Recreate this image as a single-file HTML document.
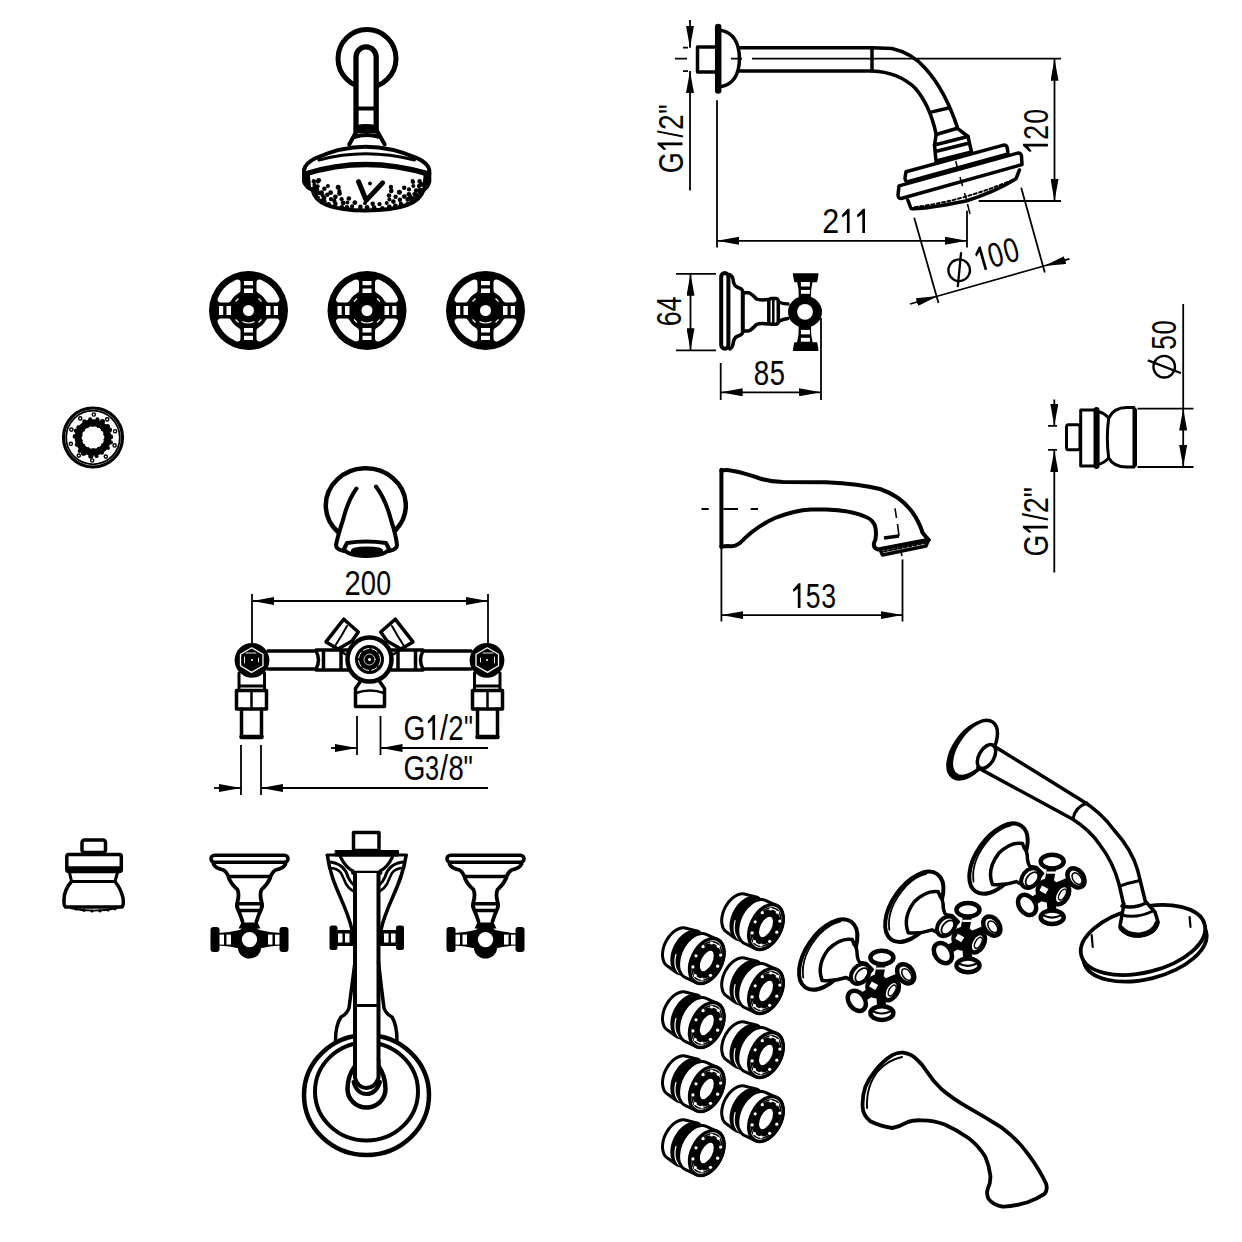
<!DOCTYPE html>
<html><head><meta charset="utf-8">
<style>
html,body{margin:0;padding:0;background:#fff;overflow:hidden;}
svg{display:block;}
text{font-family:"Liberation Sans",sans-serif;}
</style></head>
<body>
<svg width="1242" height="1242" viewBox="0 0 1242 1242">
<defs>
<marker id="ar" viewBox="0 0 22 8" refX="22" refY="4" markerWidth="22" markerHeight="8" markerUnits="userSpaceOnUse" orient="auto-start-reverse"><path d="M0 0 L22 4 L0 8 Z" fill="#000" stroke="none"/></marker>
</defs>
<g fill="none" stroke="#000" stroke-width="4" stroke-linejoin="round" stroke-linecap="round">
<!-- shower front -->
<circle cx="367" cy="58.5" r="29" stroke-width="5"/>
<path d="M356 131 L356 57 A10.1 10.1 0 0 1 376.2 57 L376.2 131" fill="#fff" stroke-width="5.3"/>
<line x1="356" y1="108.5" x2="376.2" y2="108.5" stroke-width="4"/>
<path d="M356 126.5 Q366 124 376.2 126.5 L376.2 132 L356 132 Z" fill="#000" stroke-width="2.5"/>
<path d="M355.7 132.7 L349.2 144.5 M378.2 132.7 L384.7 144.5 M354 137 Q366 133 380 137" stroke-width="4"/>
<path d="M315.4 158.3 Q365 135 417.6 158.3 Q428 163 429.3 170 L429.3 181.7 Q428 187 423.4 189.9 C420 204 398 210.5 366 210.5 C334 210.5 315 204 312.5 189.9 Q306 187 304 181.7 L304 170 Q305.5 163 315.4 158.3 Z" stroke-width="4"/>
<path d="M319 160 Q365 147.5 414.5 160" stroke-width="3"/>
<path d="M305 174 Q365 155 428.5 174" stroke-width="5.5"/>
<path d="M307.5 176 L308.5 187 M426 176 L425 187" stroke-width="5"/>
<path d="M358.6 181.7 L366.2 200.4 L382.6 182.9" stroke-width="5"/>
<g fill="#000" stroke="none"><circle cx="312.7" cy="189.2" r="2.1"/><circle cx="315.4" cy="192.2" r="2.5"/><circle cx="316.1" cy="195.3" r="1.9"/><circle cx="317.7" cy="197.7" r="2.2"/><circle cx="322.2" cy="200.6" r="2.3"/><circle cx="324.3" cy="201.4" r="2.4"/><circle cx="328.7" cy="204.3" r="2.3"/><circle cx="335.4" cy="203.9" r="2.3"/><circle cx="341.8" cy="207.3" r="2.4"/><circle cx="346.9" cy="207.3" r="2.4"/><circle cx="352.1" cy="206.4" r="2.1"/><circle cx="360.4" cy="206.9" r="2.3"/><circle cx="367.1" cy="207.4" r="2.4"/><circle cx="374.1" cy="207.7" r="2.4"/><circle cx="382.4" cy="208.2" r="2.2"/><circle cx="389.3" cy="206.9" r="2.4"/><circle cx="395.4" cy="206.0" r="2.4"/><circle cx="400.9" cy="203.8" r="2.2"/><circle cx="407.6" cy="204.0" r="2.3"/><circle cx="411.6" cy="201.4" r="2.1"/><circle cx="413.9" cy="198.2" r="2.2"/><circle cx="417.1" cy="195.4" r="2.3"/><circle cx="421.1" cy="193.4" r="1.9"/><circle cx="423.3" cy="190.4" r="2.3"/><circle cx="314.9" cy="187.8" r="2.5"/><circle cx="313.9" cy="189.5" r="2.4"/><circle cx="319.2" cy="193.0" r="2.3"/><circle cx="322.7" cy="195.4" r="2.1"/><circle cx="324.1" cy="198.1" r="2.3"/><circle cx="331.0" cy="199.1" r="2.2"/><circle cx="334.3" cy="200.8" r="2.2"/><circle cx="343.1" cy="203.0" r="2.4"/><circle cx="347.4" cy="202.6" r="2.0"/><circle cx="354.8" cy="202.7" r="2.4"/><circle cx="365.0" cy="203.2" r="1.9"/><circle cx="372.7" cy="203.8" r="2.3"/><circle cx="379.5" cy="204.1" r="2.2"/><circle cx="386.7" cy="203.1" r="2.0"/><circle cx="393.4" cy="201.6" r="2.3"/><circle cx="399.9" cy="199.8" r="2.2"/><circle cx="407.7" cy="199.4" r="2.3"/><circle cx="410.5" cy="197.6" r="2.5"/><circle cx="414.4" cy="194.0" r="2.1"/><circle cx="419.7" cy="191.9" r="1.9"/><circle cx="420.0" cy="189.7" r="2.1"/><circle cx="422.0" cy="184.5" r="2.3"/><circle cx="313.9" cy="181.2" r="2.0"/><circle cx="314.4" cy="184.7" r="2.0"/><circle cx="316.9" cy="189.4" r="2.4"/><circle cx="321.6" cy="192.5" r="2.3"/><circle cx="327.3" cy="194.7" r="2.2"/><circle cx="335.4" cy="196.8" r="2.4"/><circle cx="341.6" cy="199.2" r="2.1"/><circle cx="348.8" cy="198.5" r="2.3"/><circle cx="389.4" cy="199.5" r="2.0"/><circle cx="395.6" cy="196.7" r="2.2"/><circle cx="404.3" cy="196.6" r="2.4"/><circle cx="408.9" cy="194.3" r="2.4"/><circle cx="416.2" cy="190.7" r="2.4"/><circle cx="418.9" cy="186.1" r="2.1"/><circle cx="420.6" cy="184.3" r="2.2"/><circle cx="313.7" cy="181.4" r="2.1"/><circle cx="317.7" cy="186.3" r="2.0"/><circle cx="324.4" cy="188.7" r="2.2"/><circle cx="330.6" cy="192.7" r="2.4"/><circle cx="339.5" cy="193.6" r="2.4"/><circle cx="389.0" cy="195.5" r="2.3"/><circle cx="399.4" cy="192.3" r="2.5"/><circle cx="409.0" cy="189.4" r="2.1"/><circle cx="413.3" cy="186.1" r="2.0"/><circle cx="419.6" cy="181.2" r="2.2"/><circle cx="317.9" cy="181.6" r="2.1"/><circle cx="327.9" cy="185.9" r="2.0"/><circle cx="339.4" cy="191.0" r="2.1"/><circle cx="391.3" cy="190.9" r="2.3"/><circle cx="404.2" cy="187.8" r="2.2"/><circle cx="413.0" cy="181.9" r="2.1"/><circle cx="318.7" cy="180.3" r="2.4"/><circle cx="338.2" cy="187.2" r="2.5"/><circle cx="390.9" cy="187.0" r="2.2"/><circle cx="412.5" cy="181.0" r="1.9"/><circle cx="370.0" cy="183.5" r="1.9"/></g>
<!-- escutcheon front x3 -->
<g id="escf" transform="translate(248.5 310.5)">
<circle r="39.5" fill="#000" stroke="none"/>
<path d="M11.0 -27.9 L13.2 -26.9 L15.4 -25.7 L17.5 -24.4 L19.4 -22.9 L21.2 -21.2 L22.9 -19.4 L24.4 -17.5 L25.7 -15.4 L26.9 -13.2 L27.9 -11.0 L20.2 -11.0 L19.5 -12.1 L18.8 -13.2 L18.0 -14.3 L17.2 -15.3 L16.3 -16.3 L15.3 -17.2 L14.3 -18.0 L13.2 -18.8 L12.1 -19.5 L11.0 -20.2 Z M11.0 27.9 L13.2 26.9 L15.4 25.7 L17.5 24.4 L19.4 22.9 L21.2 21.2 L22.9 19.4 L24.4 17.5 L25.7 15.4 L26.9 13.2 L27.9 11.0 L20.2 11.0 L19.5 12.1 L18.8 13.2 L18.0 14.3 L17.2 15.3 L16.3 16.3 L15.3 17.2 L14.3 18.0 L13.2 18.8 L12.1 19.5 L11.0 20.2 Z M-11.0 -27.9 L-13.2 -26.9 L-15.4 -25.7 L-17.5 -24.4 L-19.4 -22.9 L-21.2 -21.2 L-22.9 -19.4 L-24.4 -17.5 L-25.7 -15.4 L-26.9 -13.2 L-27.9 -11.0 L-20.2 -11.0 L-19.5 -12.1 L-18.8 -13.2 L-18.0 -14.3 L-17.2 -15.3 L-16.3 -16.3 L-15.3 -17.2 L-14.3 -18.0 L-13.2 -18.8 L-12.1 -19.5 L-11.0 -20.2 Z M-11.0 27.9 L-13.2 26.9 L-15.4 25.7 L-17.5 24.4 L-19.4 22.9 L-21.2 21.2 L-22.9 19.4 L-24.4 17.5 L-25.7 15.4 L-26.9 13.2 L-27.9 11.0 L-20.2 11.0 L-19.5 12.1 L-18.8 13.2 L-18.0 14.3 L-17.2 15.3 L-16.3 16.3 L-15.3 17.2 L-14.3 18.0 L-13.2 18.8 L-12.1 19.5 L-11.0 20.2 Z" fill="#fff" stroke="#fff" stroke-width="6" stroke-linejoin="round"/>
<g fill="#fff" stroke="none">
<rect x="-4.5" y="-29.5" width="9" height="4.2"/>
<rect x="-4.5" y="-22" width="9" height="4.5"/>
<rect x="-4.5" y="25.3" width="9" height="4.2"/>
<rect x="-4.5" y="17.5" width="9" height="4.5"/>
<rect y="-4.5" x="-29.5" height="9" width="4.2"/>
<rect y="-4.5" x="-22" height="9" width="4.5"/>
<rect y="-4.5" x="25.3" height="9" width="4.2"/>
<rect y="-4.5" x="17.5" height="9" width="4.5"/>
<circle r="5.5"/>
</g>
<path d="M-10 -12 L-13 -9 M10 -12 L13 -9 M-10 12 L-13 9 M10 12 L13 9 M-6 11 Q0 14 6 11" stroke="#fff" stroke-width="1.2" stroke-linecap="butt"/>
</g>
<use href="#escf" x="118.5"/>
<use href="#escf" x="237"/>
<!-- jet front -->
<circle cx="93" cy="437.5" r="29.5" stroke-width="3.2"/>
<circle cx="93" cy="437.5" r="26.8" stroke-width="1.8"/>
<circle cx="93" cy="437.5" r="14.8" stroke-width="7"/>
<circle cx="110.9" cy="436.9" r="2.3" fill="#000" stroke="none"/>
<circle cx="110.9" cy="442.3" r="2.1" fill="#000" stroke="none"/>
<circle cx="108.2" cy="448.1" r="1.8" fill="#000" stroke="none"/>
<circle cx="102.1" cy="452.8" r="1.9" fill="#000" stroke="none"/>
<circle cx="96.6" cy="456.2" r="1.9" fill="#000" stroke="none"/>
<circle cx="90.8" cy="456.1" r="2.6" fill="#000" stroke="none"/>
<circle cx="83.6" cy="453.2" r="2.6" fill="#000" stroke="none"/>
<circle cx="79.6" cy="451.0" r="2.0" fill="#000" stroke="none"/>
<circle cx="76.7" cy="444.8" r="2.0" fill="#000" stroke="none"/>
<circle cx="75.0" cy="436.4" r="2.3" fill="#000" stroke="none"/>
<circle cx="76.0" cy="430.8" r="2.2" fill="#000" stroke="none"/>
<circle cx="78.4" cy="427.3" r="2.0" fill="#000" stroke="none"/>
<circle cx="84.4" cy="421.3" r="2.1" fill="#000" stroke="none"/>
<circle cx="90.1" cy="419.3" r="2.0" fill="#000" stroke="none"/>
<circle cx="97.4" cy="419.2" r="2.0" fill="#000" stroke="none"/>
<circle cx="102.5" cy="421.6" r="2.5" fill="#000" stroke="none"/>
<circle cx="107.4" cy="426.5" r="2.6" fill="#000" stroke="none"/>
<circle cx="109.7" cy="429.9" r="2.4" fill="#000" stroke="none"/>
<circle cx="104.6" cy="439.8" r="1.2" fill="#000" stroke="none"/>
<circle cx="102.4" cy="444.6" r="1.2" fill="#000" stroke="none"/>
<circle cx="98.4" cy="448.0" r="1.2" fill="#000" stroke="none"/>
<circle cx="93.3" cy="449.3" r="1.2" fill="#000" stroke="none"/>
<circle cx="88.1" cy="448.3" r="1.2" fill="#000" stroke="none"/>
<circle cx="84.0" cy="445.1" r="1.2" fill="#000" stroke="none"/>
<circle cx="81.6" cy="440.4" r="1.2" fill="#000" stroke="none"/>
<circle cx="81.4" cy="435.2" r="1.2" fill="#000" stroke="none"/>
<circle cx="83.6" cy="430.4" r="1.2" fill="#000" stroke="none"/>
<circle cx="87.6" cy="427.0" r="1.2" fill="#000" stroke="none"/>
<circle cx="92.7" cy="425.7" r="1.2" fill="#000" stroke="none"/>
<circle cx="97.9" cy="426.7" r="1.2" fill="#000" stroke="none"/>
<circle cx="102.0" cy="429.9" r="1.2" fill="#000" stroke="none"/>
<circle cx="104.4" cy="434.6" r="1.2" fill="#000" stroke="none"/>
<circle cx="114.6" cy="445.4" r="1.6" fill="#fff" stroke-width="1.4"/>
<circle cx="105.8" cy="456.6" r="1.6" fill="#fff" stroke-width="1.4"/>
<circle cx="92.2" cy="460.5" r="1.6" fill="#fff" stroke-width="1.4"/>
<circle cx="78.8" cy="455.6" r="1.6" fill="#fff" stroke-width="1.4"/>
<circle cx="70.9" cy="443.8" r="1.6" fill="#fff" stroke-width="1.4"/>
<circle cx="71.4" cy="429.6" r="1.6" fill="#fff" stroke-width="1.4"/>
<circle cx="80.2" cy="418.4" r="1.6" fill="#fff" stroke-width="1.4"/>
<circle cx="93.8" cy="414.5" r="1.6" fill="#fff" stroke-width="1.4"/>
<circle cx="107.2" cy="419.4" r="1.6" fill="#fff" stroke-width="1.4"/>
<circle cx="115.1" cy="431.2" r="1.6" fill="#fff" stroke-width="1.4"/>
<!-- spout front -->
<path d="M337.5 531.5 A40 37 0 1 1 396 529.6" stroke-width="4.5"/>
<path d="M356.5 488.5 Q348 500 343 520 Q338 535 336 545 Q336 549.5 344 551" stroke-width="4"/>
<path d="M376 486.5 Q386 500 391 520 Q396 535 397 545 Q397 549.5 389 551" stroke-width="4"/>
<path d="M347 543 Q366 540 386 543 L389 549 Q387 555 366 556 Q346 555 344 549 Z" stroke-width="4"/>
<ellipse cx="367" cy="551" rx="15" ry="3.2" fill="#000" stroke-width="2.5"/>
<!-- valve body front + dims -->
<g stroke-width="1.8" stroke-linecap="butt">
<line x1="252" y1="594" x2="252" y2="645"/>
<line x1="488" y1="594" x2="488" y2="643"/>
<line x1="252" y1="601" x2="488" y2="601" marker-start="url(#ar)" marker-end="url(#ar)"/>
<line x1="357" y1="716" x2="357" y2="755"/>
<line x1="380.5" y1="716" x2="380.5" y2="755"/>
<line x1="331" y1="748" x2="357" y2="748" marker-end="url(#ar)"/>
<line x1="488" y1="748" x2="380.5" y2="748" marker-end="url(#ar)"/>
<line x1="241" y1="745" x2="241" y2="795"/>
<line x1="261" y1="745" x2="261" y2="795"/>
<line x1="214" y1="788" x2="241" y2="788" marker-end="url(#ar)"/>
<line x1="488" y1="788" x2="261" y2="788" marker-end="url(#ar)"/>
</g>
<!-- pipes -->
<g stroke-width="3.5">
<path d="M268 651 L316 651 Q321 660 316 669 L268 669"/>
<path d="M471 651 L423 651 Q418 660 423 669 L471 669"/>
<path d="M316 650 L348 650 M316 670 L348 670 M323.5 650 L323.5 670 M341 650 L341 670"/>
<path d="M423 650 L391 650 M423 670 L391 670 M415.5 650 L415.5 670 M398 650 L398 670"/>
</g>
<!-- left valve -->
<g id="lv">
<path d="M239 673 L239 690 M264.5 673 L264.5 690 M239 686 L264.5 686" stroke-width="3"/>
<rect x="236.5" y="690.5" width="30" height="18.5" stroke-width="3.5"/>
<line x1="251.5" y1="690.5" x2="251.5" y2="709" stroke-width="2.5"/>
<path d="M241.5 709 L241.5 737 L261.5 737 L261.5 709" stroke-width="3.5"/>
<line x1="241.5" y1="737" x2="261.5" y2="737" stroke-width="4.5"/>
<circle cx="252" cy="660.3" r="17.4" fill="#000" stroke="none"/>
<path d="M251.7 647.8 L263 654.3 L263 665.8 L251.5 672.4 L240.5 665.8 L240.5 654.3 Z" stroke="#fff" stroke-width="1.3"/>
<path d="M246 653 L256 653 M244.5 657 L244.5 663 M258.5 658 L258.5 662" stroke="#fff" stroke-width="0.9"/>
<circle cx="252" cy="660" r="1" fill="#fff" stroke="none"/>
</g>
<use href="#lv" transform="translate(739 0) scale(-1 1)"/>
<!-- center body -->
<g stroke-width="3.5">
<path d="M343.8 619.2 L358.3 632 L352 641 L338 649 L326 641.9 Z"/>
<path d="M347 626 Q341 637 335 646" stroke-width="2"/>
<path d="M352 641 L358 646 M338 649 L345 654" stroke-width="2.5"/>
<path d="M395.2 619.2 L380.7 632 L387 641 L401 649 L413 641.9 Z"/>
<path d="M392 626 Q398 637 404 646" stroke-width="2"/>
<path d="M387 641 L381 646 M401 649 L394 654" stroke-width="2.5"/>
<path d="M360 682 L355.5 688.5 L355.5 706.5 L384.5 706.5 L384.5 688.5 L380 682" />
<path d="M356 693 Q370 688 384 693" stroke-width="2.5"/>
</g>
<circle cx="369.5" cy="659.5" r="22" fill="#fff" stroke-width="4.5"/>
<circle cx="369.5" cy="659.5" r="14.5" fill="#000" stroke="none"/>
<circle cx="369.5" cy="659.5" r="11" stroke="#fff" stroke-width="1" stroke-dasharray="6 3"/>
<circle cx="369.5" cy="659.5" r="5.5" stroke="#fff" stroke-width="0.8"/>
<circle cx="369.5" cy="659.5" r="1.5" fill="#fff" stroke="none"/>
<!-- handles front elevation -->
<g id="hd" transform="translate(249.5 938.6)">
<rect x="-38.5" y="-83.3" width="77" height="7" rx="3.5" stroke-width="3.6"/>
<path d="M-36 -74.6 Q-34 -70 -26 -68.6 Q-22 -66 -20.5 -60 Q-18 -54 -12 -49 Q-10 -44 -12 -37 Q-13.5 -33 -11.5 -29 Q-9 -24 -7 -17" stroke-width="3.8"/>
<path d="M36 -74.6 Q34 -70 26 -68.6 Q22 -66 20.5 -60 Q18 -54 12 -49 Q10 -44 12 -37 Q13.5 -33 11.5 -29 Q9 -24 7 -17" stroke-width="3.8"/>
<line x1="-20" y1="-62" x2="20" y2="-62" stroke-width="3.5"/>
<line x1="-11" y1="-34.8" x2="11" y2="-34.8" stroke-width="3.5"/>
<line x1="-10" y1="-28" x2="10" y2="-28" stroke-width="3.5"/>
<!-- cross -->
<g stroke="none" fill="#000">
<circle cx="0" cy="1" r="13.5"/><ellipse cx="0" cy="9.5" rx="11.5" ry="10.5"/><path d="M-8 -16 L-11 -10 L11 -10 L8 -16 Z"/>
<path d="M-31 -5.5 Q-20 -6 -10 -8.5 L10 -8.5 Q20 -6 31 -5.5 L31 7 Q20 7.5 10 10 L-10 10 Q-20 7.5 -31 7 Z"/>
<rect x="-39" y="-11.5" width="9" height="25" rx="3"/>
<rect x="30" y="-11.5" width="9" height="25" rx="3"/>
</g>
<g stroke="none" fill="#fff">
<circle cx="0" cy="1" r="7.7"/>
<rect x="-30" y="-4" width="4.5" height="10"/>
<rect x="-23" y="-4" width="4.5" height="10"/>
<rect x="25.5" y="-4" width="4.5" height="10"/>
<rect x="18.5" y="-4" width="4.5" height="10"/>
</g>
</g>
<use href="#hd" x="236"/>
<!-- center spout elevation -->
<ellipse cx="366.5" cy="1095" rx="62.5" ry="60" stroke-width="4.5"/>
<ellipse cx="366.5" cy="1091.5" rx="51.5" ry="49" stroke-width="4"/>
<g stroke-width="3.5">
<rect x="353.5" y="832.5" width="25.5" height="18"/>
<rect x="335.5" y="850.5" width="63" height="5.5" fill="#000" stroke-width="1"/>
<line x1="327" y1="855" x2="406.5" y2="855" stroke-width="3.2"/>
<path d="M327.5 856 C331 885 347 905 352 930" stroke-width="3.5"/>
<path d="M406 856 C402 885 386 905 381 930" stroke-width="3.5"/>
<path d="M340.5 857 Q346 868 353 871 M392.5 857 Q387 868 380 871" stroke-width="3.2"/>
<path d="M328.5 862 Q335 862 341 866 Q346 870 348 877 Q350 882 354 885 M404.5 862 Q398 862 392 866 Q387 870 385 877 Q383 882 379 885" stroke-width="3"/>
<path d="M329.5 868 Q337 868 341 873 Q344 879 346 884 Q349 889 353 891 M403.5 868 Q396 868 392 873 Q389 879 387 884 Q384 889 380 891" stroke-width="2.6"/>
<line x1="353" y1="872.8" x2="380.5" y2="872.8" stroke-width="4"/>
<path d="M355 873 L355 1076 L378.5 1076 L378.5 873" fill="#fff" stroke="none"/><path d="M355 873 L355 1076 M378.5 873 L378.5 1076" stroke-width="4"/>
<line x1="355" y1="1005.5" x2="378.5" y2="1005.5" stroke-width="3"/>
<path d="M355 962 Q352 985 349 1008 Q347 1014 341 1017 Q335.5 1025 335.5 1041" stroke-width="3.5"/>
<path d="M378.5 962 Q381 985 384 1008 Q386 1014 392 1017 Q397 1025 397 1041" stroke-width="3.5"/>
</g>
<g stroke="none" fill="#000">
<rect x="329.5" y="925.5" width="8" height="24.5" rx="2.5"/>
<rect x="336" y="930" width="17" height="16"/>
<rect x="396" y="925.5" width="8" height="24.5" rx="2.5"/>
<rect x="380" y="930" width="17" height="16"/>
</g>
<g stroke="none" fill="#fff">
<rect x="338" y="933.5" width="4.5" height="9"/>
<rect x="345" y="933.5" width="4.5" height="9"/>
<rect x="391" y="933.5" width="4.5" height="9"/>
<rect x="384" y="933.5" width="4.5" height="9"/>
</g>
<path d="M355 1066 Q347.5 1076 347.5 1089 A19 18.5 0 0 0 385.5 1089 Q385.5 1076 378.5 1066" fill="#fff" stroke-width="4.5"/>
<path d="M355 1060 L355 1078 Q358 1088 366.5 1088 Q375 1088 378.5 1078 L378.5 1060" fill="#fff" stroke-width="4"/>
<path d="M353.5 1082 Q357 1094 366.5 1094 Q376 1094 380 1082" stroke-width="4"/>
<!-- jet side (left) -->
<g stroke-width="3.5">
<rect x="82" y="840" width="23.5" height="12.5" rx="2.5"/>
<rect x="66.8" y="854.5" width="54.5" height="17" rx="2"/>
<line x1="66.8" y1="869" x2="121.3" y2="869" stroke-width="5.5" stroke-linecap="butt"/>
<path d="M69.5 872.5 L71.5 881.5 L115 881.5 L117.5 872.5" stroke-width="3"/>
<path d="M71.5 881.5 Q64 890 64 900 Q63.5 905 65.5 907 L122 907 Q124 905 123 898 Q121 889 115 881.5" stroke-width="3.5"/>
</g>
<g fill="#000" stroke="none">
<path d="M70 907 Q93 912.5 118 907 L118 909 Q93 914 70 909 Z"/>
<circle cx="76" cy="909" r="1.6"/><circle cx="84" cy="910.3" r="1.6"/><circle cx="92" cy="911" r="1.6"/><circle cx="100" cy="910.8" r="1.6"/><circle cx="108" cy="910" r="1.6"/><circle cx="115" cy="909" r="1.4"/>
</g>
<!-- shower arm side view -->
<g stroke-width="1.8" stroke-linecap="butt">
<line x1="690" y1="20" x2="690" y2="47.7" marker-end="url(#ar)"/>
<line x1="690" y1="190.5" x2="690" y2="71.1" marker-end="url(#ar)"/>
<path d="M683 47.7 L688 47.7 M683 71.1 L688 71.1 M675 58.7 L687 58.7 M731 58.7 L742 58.7 M752 58.7 L1061 58.7"/>
<line x1="717" y1="100.3" x2="717" y2="247.5"/>
<line x1="967" y1="210.7" x2="967" y2="247.5"/>
<line x1="717" y1="240.8" x2="967" y2="240.8" marker-start="url(#ar)" marker-end="url(#ar)"/>
<line x1="978.7" y1="201" x2="1061" y2="201"/>
<line x1="1054.5" y1="58.7" x2="1054.5" y2="201" marker-start="url(#ar)" marker-end="url(#ar)"/>
<line x1="914.2" y1="217.7" x2="938.5" y2="303"/>
<line x1="1021.2" y1="187.7" x2="1044.8" y2="272.5"/>
<line x1="910" y1="304" x2="938" y2="296" marker-end="url(#ar)"/>
<line x1="1069.5" y1="258.8" x2="1044" y2="266" marker-end="url(#ar)"/>
<line x1="938" y1="296" x2="1044" y2="266"/>
<path d="M955.7 161 L958 170 M960 177 L962.5 186 M964.5 193 L966.5 200 M967.5 204 L970 214" stroke-width="1.5"/>
</g>
<g stroke-width="3.5">
<rect x="697.5" y="47" width="19.5" height="25"/>
<line x1="718.2" y1="27" x2="718.2" y2="90.5" stroke-width="6.5"/>
<path d="M721.4 30.4 Q739 34 739.5 58.7 Q739 83 721.4 86.5"/>
<path d="M739 47.7 L872 47.7 L891.9 48.5 Q912 53 925 68 Q945 90 957.4 127.4"/>
<path d="M739 71.1 L872 71.1 Q898 72 915 88 Q930 105 936.2 134.5"/>
<line x1="872" y1="47.7" x2="872" y2="71.1"/>
<path d="M930 112.4 L948.6 108 M936.2 134.5 L957.4 128.3"/>
<path d="M936.2 134.5 L934.5 145 L968 136.5 L957.4 128.3"/>
<path d="M934.5 145 L936 161 L971.5 152 L968 136.5 M935.5 151.5 L969.5 143"/>
<path d="M906 171.7 L1003.5 145.1 Q1007 145 1007.5 149 L1008 154 L908.7 181.5 Q905 182 905 178 Z"/>
<path d="M899 185.9 L1017.7 153.1 Q1021 152.5 1021.5 156 L1022 164.6 L902 198.3 Q898 199 898 195 Z"/>
<path d="M907.8 200 L911 208.5 Q920 210 966 201 Q995 192 1016 178.8 L1019.4 170"/>
</g>
<path d="M915 207 Q960 202 1015 179" stroke-width="2" stroke-dasharray="3 2.5"/>
<!-- handle side view with dims 64/85 -->
<g stroke-width="1.8" stroke-linecap="butt">
<line x1="676" y1="273.8" x2="716" y2="273.8"/>
<line x1="676" y1="350.3" x2="716" y2="350.3"/>
<line x1="690.5" y1="273.8" x2="690.5" y2="350.3" marker-start="url(#ar)" marker-end="url(#ar)"/>
<line x1="720.7" y1="363" x2="720.7" y2="400"/>
<line x1="821" y1="318" x2="821" y2="400"/>
<line x1="720.7" y1="392.3" x2="821" y2="392.3" marker-start="url(#ar)" marker-end="url(#ar)"/>
</g>
<g stroke-width="3.5">
<rect x="721.2" y="273" width="7.2" height="75.7" rx="3.6" stroke-width="4"/>
<path d="M729.9 274.7 Q732.5 276 733 279 Q733.5 286 738 287.5 Q742.5 288.5 743 292.7 L748.5 292.7 Q752 294 756.4 299 Q760 300.5 768 299.5"/>
<path d="M729.9 349 Q732.5 347.5 733 344.5 Q733.5 337.5 738 336 Q742.5 335 743 331 L748.5 331 Q752 329.5 756.4 324.5 Q760 323 768 324"/>
<line x1="742.8" y1="292.7" x2="742.8" y2="331" stroke-width="4"/>
<rect x="768.8" y="298.5" width="9.5" height="25.8" rx="2.5"/>
<line x1="773.3" y1="300" x2="773.3" y2="323" stroke-width="2.5"/>
<path d="M778.5 302 Q783 304 788 304 M778.5 321.5 Q783 319 788 318.5"/>
</g>
<g fill="#000" stroke="none">
<path d="M793.6 274.1 L817.8 274.1 L816.5 281.4 L794.9 281.4 Z" stroke="#000" stroke-width="1.5" stroke-linejoin="round"/>
<path d="M794.9 342.9 L816.5 342.9 L817.8 350.2 L793.6 350.2 Z" stroke="#000" stroke-width="1.5" stroke-linejoin="round"/>
<path d="M797 281 L812.7 281 Q810.5 290 811 298 L811 326 Q810.5 334 812.7 343 L797 343 Q799.2 334 798.7 326 L798.7 298 Q799.2 290 797 281 Z"/>
<ellipse cx="805" cy="311.9" rx="17" ry="15.8"/>
</g>
<g fill="#fff" stroke="none">
<circle cx="805" cy="311.9" r="7.9"/>
<rect x="800.9" y="282" width="9" height="4.5"/>
<rect x="800.9" y="289.9" width="9" height="3.9"/>
<rect x="800.9" y="337.8" width="9" height="3.9"/>
<rect x="800.9" y="329.9" width="9" height="4.5"/>
</g>
<!-- jet side with dims 50 -->
<g stroke-width="1.8" stroke-linecap="butt">
<line x1="1183.2" y1="304" x2="1183.2" y2="408.6"/>
<line x1="1183.2" y1="408.6" x2="1183.2" y2="467" marker-start="url(#ar)" marker-end="url(#ar)"/>
<line x1="1137.5" y1="408.6" x2="1193.5" y2="408.6"/>
<line x1="1137.5" y1="467" x2="1193.5" y2="467"/>
<line x1="1054.3" y1="399.5" x2="1054.3" y2="425.8" marker-end="url(#ar)"/>
<line x1="1054.3" y1="572.5" x2="1054.3" y2="449.9" marker-end="url(#ar)"/>
<path d="M1048 425.8 L1057 425.8 M1048 449.9 L1057 449.9"/>
</g>
<g stroke-width="3">
<rect x="1066.5" y="424.8" width="13.5" height="25" rx="2"/>
<rect x="1080.7" y="410" width="17" height="56"/>
<path d="M1099.5 412 Q1104 413 1108.7 418 M1099.5 464 Q1104 463 1108.7 458"/>
<path d="M1108.7 418 Q1114 407 1128 407.5 L1134 407.5 L1134 467 L1128 467 Q1114 467.5 1108.7 458 Q1106 438 1108.7 418"/>
</g>
<line x1="1096.5" y1="410" x2="1096.5" y2="466" stroke-width="6"/>
<line x1="1135" y1="410" x2="1135" y2="465" stroke-width="4"/>
<!-- spout side with dim 153 -->
<g stroke-width="1.8" stroke-linecap="butt">
<line x1="721.4" y1="548" x2="721.4" y2="621.5"/>
<line x1="902.5" y1="559.5" x2="902.5" y2="621.5"/>
<line x1="721.4" y1="615.1" x2="902.5" y2="615.1" marker-start="url(#ar)" marker-end="url(#ar)"/>
<path d="M701.5 509 L708.8 509 M723.5 509 L738 509 M750.7 509 L758 509"/>
<path d="M895 508.4 L896.5 518 M897.5 524 L899 536 M900.5 550 L902 556" stroke-width="1.6"/>
<path d="M884 538 L899 536" stroke-width="3.5"/>
</g>
<g stroke-width="4">
<line x1="721.4" y1="469.7" x2="721.4" y2="547"/>
<path d="M721.4 470.7 Q726 469.5 732 470.7 Q745 473 760 478.5 Q770 481.5 783 482 L826 482.2 Q860 484 880 489 Q904 497 916 517.8 Q921 527 922.4 532.5 Q926 537 928.6 539.8"/>
<path d="M928.6 539.8 L878 549.5 Q873 548 874 543 Q877 538 875.5 528 Q874 520 866 517 Q850 510 826 509.5 L811 509.4 Q795 510 775 518 Q755 527 740 543 Q735 547 728 546 L721.4 546.5"/>
<path d="M926 546 L882.5 555 L880 549.5 M926 546 L928.6 539.8" stroke-width="3.5"/>
<path d="M884 551.5 L925 543" stroke-width="2" stroke-dasharray="3 2"/>
</g>
<!-- iso jets -->
<g id="jet" transform="translate(766 927)">
<path d="M-44.3 -5.9 L-44.3 -7.6 L-44.1 -9.2 L-43.8 -10.9 L-43.5 -12.6 L-43.0 -14.4 L-42.4 -16.1 L-41.7 -17.8 L-40.9 -19.4 L-40.0 -21.0 L-39.0 -22.6 L-38.0 -24.1 L-36.9 -25.5 L-35.7 -26.8 L-34.5 -28.0 L-33.3 -29.1 L-32.0 -30.1 L-30.7 -31.0 L-29.3 -31.7 L-28.0 -32.3 L-26.7 -32.7 L-25.4 -33.0 L-24.1 -33.2 L-22.9 -33.2 L-21.7 -33.0 L-11.0 -30.4 L-9.7 -30.1 L-8.5 -29.6 L-7.5 -28.9 L-6.5 -28.1 L-5.5 -27.1 L-4.7 -26.1 L-4.1 -24.8 L-3.5 -23.5 L-3.0 -22.0 L-2.7 -20.5 L-2.5 -18.8 L-2.4 -17.1 L-2.4 -15.3 L-2.6 -13.5 L-2.9 -11.6 L-3.3 -9.7 L-3.9 -7.8 L-4.5 -5.9 L-5.3 -4.0 L-6.1 -2.2 L-7.1 -0.4 L-8.2 1.3 L-9.3 2.9 L-10.5 4.5 L-11.8 5.9 L-13.2 7.3 L-14.6 8.5 L-16.0 9.6 L-17.4 10.5 L-18.9 11.3 L-20.3 12.0 L-21.8 12.4 L-23.2 12.8 L-24.6 12.9 L-26.0 12.9 L-27.3 12.8 L-28.5 12.4 L-29.7 11.9 L-30.8 11.3 L-39.7 4.8 L-40.6 4.1 L-41.4 3.2 L-42.2 2.2 L-42.8 1.1 L-43.3 -0.1 L-43.7 -1.5 L-44.0 -2.9 L-44.2 -4.4 Z" fill="#fff" stroke-width="3"/>
<path d="M-35.5 -0.7 L-35.4 -2.5 L-35.3 -4.3 L-35.0 -6.1 L-34.6 -8.0 L-34.1 -9.8 L-33.4 -11.7 L-32.7 -13.5 L-31.8 -15.3 L-30.9 -17.0 L-29.8 -18.7 L-28.7 -20.3 L-27.5 -21.8 L-26.2 -23.3 L-24.9 -24.6 L-23.6 -25.8 L-22.2 -26.8 L-20.8 -27.8 L-19.3 -28.5 L-17.9 -29.2 L-16.5 -29.6 L-15.1 -30.0 L-13.7 -30.1 L-12.4 -30.1 L-11.1 -29.9 L-9.9 -29.6 L-8.8 -29.1 L-0.6 -25.4 L0.5 -24.7 L1.5 -23.9 L2.4 -23.0 L3.1 -21.9 L3.8 -20.7 L4.4 -19.4 L4.8 -18.0 L5.2 -16.4 L5.4 -14.8 L5.5 -13.1 L5.4 -11.4 L5.3 -9.6 L5.0 -7.8 L4.6 -5.9 L4.0 -4.0 L3.4 -2.2 L2.6 -0.4 L1.8 1.4 L0.8 3.2 L-0.2 4.9 L-1.3 6.5 L-2.5 8.0 L-3.8 9.4 L-5.1 10.7 L-6.5 11.9 L-7.8 13.0 L-9.3 13.9 L-10.7 14.7 L-12.1 15.3 L-13.5 15.8 L-14.9 16.1 L-16.3 16.3 L-17.6 16.3 L-18.9 16.1 L-20.1 15.8 L-21.3 15.3 L-29.5 11.5 L-30.5 10.9 L-31.5 10.1 L-32.4 9.1 L-33.2 8.1 L-33.9 6.9 L-34.4 5.5 L-34.9 4.1 L-35.2 2.6 L-35.4 1.0 Z" fill="#000" stroke-width="2"/>
<path d="M0.0 -8.0 L-0.6 -5.8 L-1.5 -3.6 L-2.4 -1.4 L-3.5 0.7 L-4.8 2.8 L-6.1 4.7 L-7.6 6.5 L-9.1 8.1 L-10.7 9.6 L-12.4 10.9 L-14.1 12.0 L-15.8 12.9 L-17.5 13.5 L-19.2 14.0 L-20.9 14.2 L-22.4 14.1 L-24.0 13.9 L-25.4 13.4 L-26.7 12.7 L-27.9 11.7 L-28.9 10.6 L-29.8 9.3 L-30.6 7.8 L-31.2 6.1 L-31.6 4.3 L-31.8 2.3 L-31.8 0.3 L-31.7 -1.9 L-31.4 -4.0 L-30.9 -6.3" stroke="#fff" stroke-width="1.2"/>
<path d="M-28.2 3.5 L-28.1 1.6 L-27.9 -0.2 L-27.6 -2.2 L-27.2 -4.1 L-26.6 -6.1 L-26.0 -8.0 L-25.2 -10.0 L-24.3 -11.8 L-23.3 -13.7 L-22.2 -15.5 L-21.0 -17.2 L-19.8 -18.8 L-18.4 -20.2 L-17.0 -21.6 L-15.6 -22.9 L-14.2 -24.0 L-12.7 -25.0 L-11.2 -25.8 L-9.7 -26.5 L-8.2 -27.0 L-6.7 -27.3 L-5.3 -27.5 L-3.9 -27.5 L-2.5 -27.3 L-1.2 -26.9 L-0.0 -26.4 L10.9 -21.4 L12.0 -20.7 L13.1 -19.9 L14.0 -18.9 L14.8 -17.8 L15.5 -16.5 L16.1 -15.1 L16.6 -13.6 L16.9 -12.0 L17.2 -10.3 L17.2 -8.5 L17.2 -6.7 L17.0 -4.8 L16.7 -2.9 L16.3 -0.9 L15.7 1.0 L15.1 3.0 L14.3 4.9 L13.4 6.8 L12.4 8.6 L11.3 10.4 L10.1 12.1 L8.8 13.7 L7.5 15.2 L6.1 16.6 L4.7 17.8 L3.2 19.0 L1.7 19.9 L0.2 20.8 L-1.3 21.4 L-2.8 21.9 L-4.2 22.3 L-5.7 22.4 L-7.1 22.4 L-8.4 22.2 L-9.7 21.9 L-10.9 21.4 L-21.8 16.3 L-22.9 15.7 L-24.0 14.8 L-24.9 13.9 L-25.7 12.7 L-26.4 11.5 L-27.0 10.1 L-27.5 8.6 L-27.9 7.0 L-28.1 5.3 Z" fill="#fff" stroke-width="3"/>
<ellipse rx="24" ry="15" transform="rotate(-63)" fill="#fff" stroke-width="3.5"/>
<ellipse rx="14.879999999999999" ry="9.3" transform="rotate(-63)" stroke-width="7.5"/>
<ellipse rx="20.64" ry="12.9" transform="rotate(-63)" stroke-width="1.5"/>
<g fill="#fff" stroke="none"><circle cx="11.5" cy="-14.7" r="1.6"/><circle cx="13.8" cy="-5.9" r="1.6"/><circle cx="10.8" cy="5.2" r="1.6"/><circle cx="3.7" cy="14.3" r="1.6"/><circle cx="-4.8" cy="18.0" r="1.6"/><circle cx="-11.5" cy="14.7" r="1.6"/><circle cx="-13.8" cy="5.9" r="1.6"/><circle cx="-10.8" cy="-5.2" r="1.6"/><circle cx="-3.7" cy="-14.3" r="1.6"/><circle cx="4.8" cy="-18.0" r="1.6"/></g>
</g>
<use href="#jet" x="-59.2" y="34.0"/>
<use href="#jet" x="0.0" y="64.0"/>
<use href="#jet" x="-59.2" y="98.0"/>
<use href="#jet" x="0.0" y="128.0"/>
<use href="#jet" x="-59.2" y="162.0"/>
<use href="#jet" x="0.0" y="192.0"/>
<use href="#jet" x="-59.2" y="226.0"/>
<!-- iso handles -->
<g id="ih" transform="translate(880.2 985.5)">
<ellipse cx="-52" cy="-31" rx="40" ry="22" transform="rotate(-55 -52 -31)" fill="#fff" stroke-width="4"/>
<path d="M-77 -8 Q-80 -30 -60 -52 Q-50 -62 -40 -64" stroke-width="1.8"/>
<path d="M-58 -5 Q-64 -20 -52 -36 Q-40 -48 -28 -46 L-26 -41 Q-23 -38 -23 -30 Q-22 -24 -20 -23 L-14 -22 L-8 -16 L-20 -3 L-26 -6 Q-30 -5 -34 -8 Q-46 -4 -58 -5 Z" fill="#fff" stroke-width="3.5"/>
<ellipse cx="-20" cy="-11.5" rx="8" ry="11" transform="rotate(40 -20 -11.5)" fill="#fff" stroke-width="4"/>
<ellipse cx="-18.5" cy="-10.5" rx="5" ry="8" transform="rotate(40 -18.5 -10.5)" stroke-width="1.8"/>
<g stroke-width="9" stroke-linecap="butt">
<line x1="-3" y1="0" x2="1.7" y2="-24"/>
<line x1="0" y1="0" x2="24" y2="-10"/>
<line x1="0" y1="3" x2="1.7" y2="24"/>
<line x1="-3" y1="3" x2="-20" y2="13"/>
</g>
<circle cx="-3" cy="1" r="12" fill="#000" stroke="none"/>
<path d="M-8.5 -4 L-2 -0.5 L-5 4.5 L-11 1 Z" fill="#fff" stroke="none"/>
<path d="M-4 -17 L6 -17 M-3 21 L6 21" stroke="#fff" stroke-width="2.2" stroke-linecap="butt"/>
<ellipse cx="1.7" cy="-28" rx="11.5" ry="6.8" fill="#fff" stroke-width="4.5"/>
<ellipse cx="25.5" cy="-11.7" rx="7.5" ry="10.5" transform="rotate(-35 25.5 -11.7)" fill="#fff" stroke-width="4.5"/>
<ellipse cx="26.5" cy="-11" rx="4" ry="6.5" transform="rotate(-35 26.5 -11)" stroke-width="1.5"/>
<ellipse cx="-23.4" cy="15.3" rx="8" ry="11" transform="rotate(-35 -23.4 15.3)" fill="#fff" stroke-width="4.5"/>
<ellipse cx="1.7" cy="27.6" rx="11.5" ry="6.8" fill="#fff" stroke-width="4.5"/>
<path d="M-7 26 Q1.7 30 10 26" stroke-width="2.2"/>
<ellipse cx="11" cy="5" rx="6.5" ry="10.5" transform="rotate(30 11 5)" fill="#fff" stroke-width="4.5"/>
<ellipse cx="12" cy="5" rx="3" ry="6" transform="rotate(30 12 5)" stroke-width="1.5"/>
</g>
<use href="#ih" x="86.1" y="-47.7"/>
<use href="#ih" x="170.3" y="-95.9"/>
<!-- iso shower -->
<g stroke-width="3.5">
<ellipse cx="971.5" cy="750.5" rx="32" ry="17" transform="rotate(-55 971.5 750.5)" fill="#fff" stroke-width="4.5"/>
<ellipse cx="974.4" cy="748.4" rx="32" ry="17" transform="rotate(-55 974.4 748.4)" fill="#fff" stroke-width="3.5"/>
<path d="M993 745.5 L1081.8 800.4 Q1101 812 1114 830 Q1132 850 1137.6 870 L1146 904"/>
<path d="M977.9 767.7 L1072.4 819 Q1090 830 1100 845 Q1113 862 1119 884 L1124 906"/>
<ellipse cx="986.5" cy="756.5" rx="13" ry="7.5" transform="rotate(-60 986.5 756.5)" fill="#fff"/>
<path d="M1087 803 Q1075 807 1073 819" stroke-width="3"/>
<path d="M1120 886 Q1128 883 1138 881" stroke-width="3"/>
<ellipse cx="1145" cy="947" rx="63" ry="32" transform="rotate(-14 1145 947)" fill="#fff" stroke-width="3.8"/>
<ellipse cx="1143" cy="940" rx="63.6" ry="32.4" transform="rotate(-14 1143 940)" fill="#fff" stroke-width="3.8"/>
<path d="M1124 904 L1120 926 Q1124 936 1140 936 Q1156 934 1158 922 L1155 912 L1146 902" fill="#fff" stroke-width="3.5"/>
<path d="M1122 906 Q1134 909 1146 903" stroke-width="3.5"/>
<path d="M1122 915 Q1136 919 1153 911" stroke-width="3"/>
<path d="M1121 928 Q1128 936 1140 935 Q1154 933 1157 923" stroke-width="5"/>
<path d="M1091.7 935 L1092.7 947 M1189.6 917 L1190.5 927" stroke-width="2.2"/>
</g>
<!-- iso spout -->
<path d="M903.3 1052.7 Q912 1054 917.6 1060.3 Q922 1064 926.1 1070.4 Q933 1081 941.3 1089 Q953 1099 968.4 1107.6 Q985 1117 1002.2 1127.9 Q1017 1139 1027.5 1153.3 Q1040 1170 1046.1 1183.7 Q1048 1190 1044.5 1193.9 Q1037 1199 1027.5 1202.3 Q1012 1207 1002.2 1206.5 Q993 1205 988.7 1199 Q986 1194 987.8 1188.8 Q991 1182 990.3 1175.3 Q989 1165 985.3 1156.7 Q978 1145 968.4 1138 Q957 1130 944.7 1124.5 Q933 1120 921 1120.3 Q912 1120 905.8 1122.9 Q899 1127 892.3 1128 Q880 1126 870.3 1121.2 Q863 1115 862.7 1107.6 Q862 1097 865.2 1087.3 Q869 1078 875.4 1070.4 Q883 1061 892.3 1055.2 Q898 1052 903.3 1052.7 Z" stroke-width="3.8"/>
<path d="M867 1108 Q866 1086 878 1071 Q888 1060 902 1057" stroke-width="2"/>
<!-- texts -->
<g transform="translate(0 595)" fill="#000" stroke="none"><text transform="translate(344.54 0) scale(0.818 1)" font-size="35.67">2</text><text transform="translate(360.63 0) scale(0.768 1)" font-size="35.67">0</text><text transform="translate(376.16 0) scale(0.751 1)" font-size="35.67">0</text></g>
<g transform="translate(0 739.8)" fill="#000" stroke="none"><text transform="translate(403.39 0) scale(0.793 1)" font-size="35.53">G</text><path d="M435.10 0.00 L435.10 -24.80 L433.15 -24.80 L427.70 -18.50 L428.20 -16.00 L432.40 -19.60 L432.40 0.00 Z"/><text transform="translate(440.00 0) scale(0.810 1)" font-size="35.53">/</text><text transform="translate(448.22 0) scale(0.778 1)" font-size="35.53">2</text><text transform="translate(463.91 0) scale(0.711 1)" font-size="35.53">&quot;</text></g>
<g transform="translate(0 780.2)" fill="#000" stroke="none"><text transform="translate(403.39 0) scale(0.793 1)" font-size="35.53">G</text><text transform="translate(425.04 0) scale(0.713 1)" font-size="35.53">3</text><text transform="translate(440.00 0) scale(0.810 1)" font-size="35.53">/</text><text transform="translate(448.42 0) scale(0.772 1)" font-size="35.53">8</text><text transform="translate(463.57 0) scale(0.743 1)" font-size="35.53">&quot;</text></g>
<g transform="translate(0 233)" fill="#000" stroke="none"><text transform="translate(822.28 0) scale(0.879 1)" font-size="34.67">2</text><path d="M849.60 0.00 L849.60 -24.20 L847.65 -24.20 L841.90 -17.90 L842.40 -15.40 L846.90 -19.00 L846.90 0.00 Z"/><path d="M865.00 0.00 L865.00 -24.20 L863.05 -24.20 L857.00 -17.90 L857.50 -15.40 L862.30 -19.00 L862.30 0.00 Z"/></g>
<g transform="translate(0 385)" fill="#000" stroke="none"><text transform="translate(753.80 0) scale(0.784 1)" font-size="35.53">8</text><text transform="translate(769.70 0) scale(0.772 1)" font-size="35.53">5</text></g>
<g transform="translate(0 608.1)" fill="#000" stroke="none"><path d="M800.50 0.00 L800.50 -24.90 L798.55 -24.90 L793.00 -18.60 L793.50 -16.10 L797.80 -19.70 L797.80 0.00 Z"/><text transform="translate(805.64 0) scale(0.745 1)" font-size="35.67">5</text><text transform="translate(821.19 0) scale(0.745 1)" font-size="35.67">3</text></g>
<g transform="translate(1047.9 0) rotate(-90)" fill="#000" stroke="none"><path d="M-143.70 0.00 L-143.70 -24.90 L-145.65 -24.90 L-151.70 -18.60 L-151.20 -16.10 L-146.40 -19.70 L-146.40 0.00 Z"/><text transform="translate(-139.97 0) scale(0.768 1)" font-size="35.67">2</text><text transform="translate(-123.74 0) scale(0.751 1)" font-size="35.67">0</text></g>
<g transform="translate(680.8 0) rotate(-90)" fill="#000" stroke="none"><text transform="translate(-326.28 0) scale(0.763 1)" font-size="35.53">6</text><text transform="translate(-311.22 0) scale(0.754 1)" font-size="35.53">4</text></g>
<g transform="translate(1175.7 0) rotate(-90)" fill="#000" stroke="none"><text transform="translate(-349.65 0) scale(0.754 1)" font-size="34.96">5</text><text transform="translate(-334.50 0) scale(0.730 1)" font-size="34.96">0</text></g>
<g transform="translate(682.5 0) rotate(-90)" fill="#000" stroke="none"><text transform="translate(-173.16 0) scale(0.757 1)" font-size="35.82">G</text><path d="M-142.50 0.00 L-142.50 -25.00 L-144.45 -25.00 L-149.90 -18.70 L-149.40 -16.20 L-145.20 -19.80 L-145.20 0.00 Z"/><text transform="translate(-137.40 0) scale(0.713 1)" font-size="35.82">/</text><text transform="translate(-130.11 0) scale(0.790 1)" font-size="35.82">2</text><text transform="translate(-113.73 0) scale(0.737 1)" font-size="35.82">&quot;</text></g>
<g transform="translate(1047.85 0) rotate(-90)" fill="#000" stroke="none"><text transform="translate(-556.40 0) scale(0.782 1)" font-size="35.82">G</text><path d="M-525.70 0.00 L-525.70 -25.00 L-527.65 -25.00 L-532.80 -18.70 L-532.30 -16.20 L-528.40 -19.80 L-528.40 0.00 Z"/><text transform="translate(-520.60 0) scale(0.743 1)" font-size="35.82">/</text><text transform="translate(-513.35 0) scale(0.808 1)" font-size="35.82">2</text><text transform="translate(-497.33 0) scale(0.799 1)" font-size="35.82">&quot;</text></g>
<g fill="none" stroke="#000" stroke-width="2.3"><circle cx="1164.2" cy="366.7" r="10.8"/><line x1="1148.7" y1="360.6" x2="1180" y2="372.8"/></g>
<g transform="translate(986 269.9) rotate(-15.8)" fill="#000" stroke="none"><path d="M1.30 0.00 L1.30 -24.20 L-0.65 -24.20 L-6.20 -17.90 L-5.70 -15.40 L-1.40 -19.00 L-1.40 0.00 Z"/><text transform="translate(6.07 0) scale(0.760 1)" font-size="34.67">0</text><text transform="translate(22.17 0) scale(0.760 1)" font-size="34.67">0</text></g>
<g transform="translate(986 269.9) rotate(-15.8)" fill="none" stroke="#000" stroke-width="2.3"><circle cx="-25.9" cy="-7" r="10.8"/><line x1="-19.5" y1="-22.9" x2="-31.5" y2="7.9"/></g>

</g>
</svg>
</body></html>
